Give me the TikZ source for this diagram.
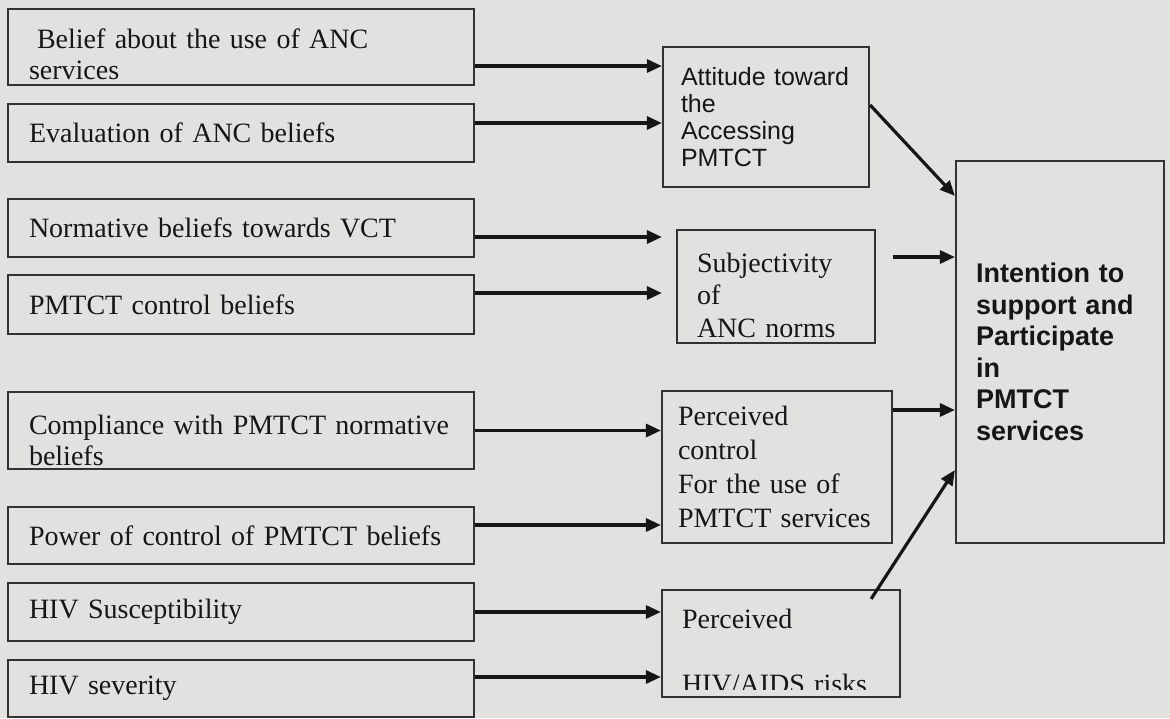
\documentclass[tikz,border=0pt]{standalone}
\usepackage{fontspec}
\setmainfont{Liberation Serif}
\newfontfamily\arialfont{Liberation Sans}
\usetikzlibrary{arrows.meta}
\definecolor{scanbg}{RGB}{225,225,223}
\definecolor{boxline}{RGB}{50,50,50}
\definecolor{inkcol}{RGB}{22,22,22}
\tikzset{
  leftbox/.style={draw=boxline, line width=2.2pt, minimum width=466pt, inner xsep=21pt, inner ysep=0pt,
    text width=424pt, align=left, text=inkcol, font=\fontsize{28}{31}\selectfont},
  midbox/.style={draw=boxline, line width=2.2pt, inner ysep=0pt, align=left, text=inkcol},
  link/.style={-{Triangle[length=15pt,width=13pt]}, line width=3.2pt, draw=inkcol},
}
\begin{document}
\begin{tikzpicture}[x=1pt,y=-1pt]
      \fill[scanbg] (0,0) rectangle (1170,718);
      \useasboundingbox (0,0) rectangle (1170,718);
      \draw
        (241,47) node[leftbox, minimum height=76pt] (b1){\rule{0pt}{35pt}\hspace*{8pt}Belief about the use of ANC\\services}
        (241,133) node[leftbox, minimum height=58pt] (b2){Evaluation of ANC beliefs}
        (241,228) node[leftbox, minimum height=58pt] (b3){Normative beliefs towards VCT}
        (241,304.5) node[leftbox, minimum height=59pt] (b4){PMTCT control beliefs}
        (241,430.5) node[leftbox, minimum height=77pt] (b5){\rule{0pt}{39pt}Compliance with PMTCT normative\\beliefs}
        (241,535.5) node[leftbox, minimum height=57pt] (b6){Power of control of PMTCT beliefs}
        (241,612) node[leftbox, minimum height=58pt] (b7){HIV Susceptibility}
        (241,688.5) node[leftbox, minimum height=57pt] (b8){HIV severity};
      \draw
        (766,117) node[midbox, minimum width=206pt, minimum height=140pt, inner xsep=18pt,
          text width=170pt, font=\arialfont\fontsize{25}{27}\selectfont] (att){Attitude toward\\the\\Accessing\\PMTCT}
        (776,286.5) node[midbox, minimum width=198pt, minimum height=113pt, inner xsep=20pt,
          text width=158pt, font=\fontsize{28}{32.5}\selectfont] (subj){\rule{0pt}{37pt}Subjectivity\\of\\ANC norms}
        (777,467) node[midbox, minimum width=230pt, minimum height=152pt, inner xsep=16pt,
          text width=198pt, font=\fontsize{28}{34}\selectfont] (ctrl){Perceived\\control\\For the use of\\PMTCT services}
        (781,643.5) node[midbox, minimum width=238pt, minimum height=107pt] (risk){}
        (1060,352) node[midbox, minimum width=208pt, minimum height=382pt, inner xsep=20pt,
          text width=168pt, font=\arialfont\bfseries\fontsize{27}{31.5}\selectfont] (int){Intention to\\support and\\Participate\\in\\PMTCT\\services};
      \begin{scope}
        \clip (risk.north west) rectangle ([yshift=9pt]risk.south east);
        \node[midbox, draw=none, inner xsep=20pt, text width=198pt,
          font=\fontsize{28}{32.5}\selectfont] (risktext) at (781,651) {Perceived\\[32.5pt]HIV/AIDS risks};
      \end{scope}
      \begin{scope}[link]
        \draw ([yshift=-19pt]b1.east) to ([yshift=-19pt]b1.east -| att.west);
        \draw ([yshift=10pt]b2.east) to ([yshift=10pt]b2.east -| att.west);
        \draw ([yshift=-9pt]b3.east) to ([yshift=-9pt]b3.east -| att.west);
        \draw ([yshift=11.5pt]b4.east) to ([yshift=11.5pt]b4.east -| att.west);
        \draw (b5.east) to (b5.east -| ctrl.west);
        \draw ([yshift=10.5pt]b6.east) to ([yshift=10.5pt]b6.east -| ctrl.west);
        \draw (b7.east) to (b7.east -| risk.west);
        \draw ([yshift=11.5pt]b8.east) to ([yshift=11.5pt]b8.east -| risk.west);
        \draw ([yshift=12pt]att.east) to ([yshift=-36pt]int.north west);
        \draw ([xshift=17pt,yshift=29.5pt]subj.east) to ([yshift=29.5pt]subj.east -| int.west);
        \draw ([yshift=57pt]ctrl.east) to ([yshift=57pt]ctrl.east -| int.west);
        \draw ([xshift=-30pt,yshift=-10pt]risk.north east) to ([yshift=-118pt]int.west);
      \end{scope}
    \end{tikzpicture}
\end{document}
